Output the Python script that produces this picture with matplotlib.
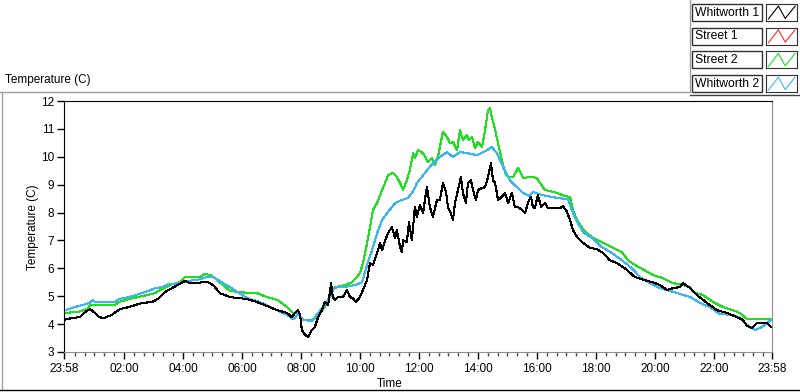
import numpy as np
import matplotlib.pyplot as plt
from matplotlib.lines import Line2D
from matplotlib.patches import Rectangle

plt.rcParams['font.family'] = ['Liberation Sans', 'DejaVu Sans']

# time in hours after midnight, temperature in C
w1_t = [-0.03, 0.24, 0.51, 0.68, 0.85, 0.98, 1.15, 1.32, 1.59, 1.86, 2.17, 2.61, 2.95, 3.19, 3.39,
        3.63, 3.90, 4.07, 4.24, 4.51, 4.64, 4.85, 5.02, 5.25, 5.59, 5.93, 6.17, 6.51, 6.85, 7.19,
        7.53, 7.69, 7.80, 7.90, 7.97, 8.03, 8.14, 8.24, 8.37, 8.47, 8.58, 8.71, 8.81, 8.92, 9.02,
        9.08, 9.15, 9.25, 9.42, 9.56, 9.66, 9.76, 9.86, 10.0, 10.10, 10.24, 10.34, 10.44, 10.58,
        10.68, 10.75, 10.85, 10.95, 11.08, 11.19, 11.25, 11.36, 11.42, 11.46, 11.59, 11.66, 11.76,
        11.83, 11.86, 11.93, 12.03, 12.14, 12.20, 12.27, 12.37, 12.47, 12.61, 12.71, 12.81, 12.92,
        12.98, 13.08, 13.15, 13.22, 13.32, 13.42, 13.49, 13.59, 13.66, 13.76, 13.83, 13.93, 14.0,
        14.14, 14.24, 14.34, 14.44, 14.51, 14.58, 14.68, 14.81, 14.92, 15.02, 15.15, 15.25, 15.36,
        15.49, 15.59, 15.73, 15.80, 15.86, 15.93, 16.03, 16.14, 16.27, 16.37, 16.61, 16.78, 16.88,
        17.02, 17.12, 17.22, 17.36, 17.53, 17.80, 18.03, 18.24, 18.47, 18.71, 18.98, 19.32, 19.63,
        19.93, 20.17, 20.41, 20.61, 20.85, 20.95, 21.19, 21.42, 21.76, 22.10, 22.44, 22.78, 22.98,
        23.12, 23.29, 23.46, 23.66, 23.80, 23.93, 23.97]
w1_v = [4.15, 4.22, 4.25, 4.43, 4.54, 4.43, 4.25, 4.22, 4.33, 4.54, 4.61, 4.76, 4.79, 4.93, 5.15,
        5.29, 5.45, 5.55, 5.47, 5.47, 5.5, 5.5, 5.4, 5.11, 4.97, 4.93, 4.9, 4.79, 4.65, 4.5,
        4.4, 4.25, 4.4, 4.5, 4.33, 3.79, 3.61, 3.54, 3.79, 3.9, 4.25, 4.5, 4.79, 4.68, 5.47,
        4.97, 4.86, 4.97, 4.97, 5.22, 4.97, 4.93, 4.79, 4.97, 5.22, 5.58, 6.19, 6.12, 6.55,
        6.9, 6.65, 7.0, 7.26, 7.48, 7.08, 7.37, 6.76, 6.58, 7.0, 6.94, 7.66, 7.0,
        7.84, 8.2, 7.84, 8.27, 7.98, 8.45, 8.91, 8.2, 7.84, 8.45, 8.45, 9.06, 8.73,
        8.2, 7.98, 7.73, 8.34, 8.81, 9.27, 8.7, 8.34, 9.06, 9.16, 8.81, 8.45, 8.81,
        8.88, 8.91, 9.27, 9.77, 9.16, 9.06, 8.45, 8.56, 8.7, 8.34, 8.7, 8.2, 8.2,
        8.09, 7.98, 8.45, 8.56, 8.2, 8.16, 8.63, 8.2, 8.34, 8.16, 8.16, 8.16, 8.23,
        8.02, 7.73, 7.37, 7.12, 6.94, 6.73, 6.69, 6.55, 6.29, 6.19, 6.0, 5.69, 5.58,
        5.5, 5.4, 5.22, 5.29, 5.33, 5.47, 5.29, 5.04, 4.76, 4.5, 4.4, 4.25, 4.15,
        3.93, 3.86, 4.04, 4.04, 4.04, 3.9, 3.9]

# Street 1 has no readings in this window
s1_t = []
s1_v = []

s2_t = [-0.03, 0.47, 0.75, 0.85, 1.69, 1.83, 2.17, 2.61, 3.05, 3.29, 3.63, 3.90, 4.07, 4.58, 4.75,
        4.92, 5.08, 5.32, 5.59, 6.27, 6.51, 6.85, 7.22, 7.53, 7.73, 7.90, 8.07, 8.37, 8.58, 8.81,
        9.05, 9.22, 9.49, 9.73, 9.90, 10.0, 10.10, 10.24, 10.34, 10.44, 10.58, 10.75, 10.85, 10.95,
        11.12, 11.25, 11.36, 11.46, 11.59, 11.69, 11.80, 11.86, 11.97, 12.14, 12.31, 12.44, 12.54,
        12.64, 12.81, 12.95, 13.05, 13.15, 13.29, 13.39, 13.49, 13.63, 13.69, 13.80, 13.90, 14.0,
        14.14, 14.24, 14.34, 14.41, 14.47, 14.58, 14.68, 14.81, 14.92, 15.02, 15.19, 15.36, 15.53,
        15.73, 15.83, 16.0, 16.10, 16.27, 16.61, 16.95, 17.12, 17.22, 17.36, 17.53, 17.69, 17.86,
        18.20, 18.54, 18.88, 19.08, 19.32, 19.63, 19.93, 20.27, 20.61, 20.95, 21.19, 21.29, 21.63,
        21.97, 22.31, 22.64, 22.88, 23.12, 23.97]
s2_v = [4.4, 4.44, 4.54, 4.68, 4.68, 4.79, 4.9, 5.0, 5.11, 5.26, 5.44, 5.5, 5.69, 5.69, 5.8,
        5.76, 5.65, 5.44, 5.19, 5.11, 5.11, 4.97, 4.86, 4.61, 4.4, 4.4, 4.15, 4.15, 4.33, 4.61,
        5.22, 5.33, 5.4, 5.5, 5.69, 5.83, 6.19, 6.9, 7.48, 8.09, 8.34, 8.81, 9.06, 9.34,
        9.42, 9.27, 9.06, 8.81, 9.16, 9.52, 10.13, 9.95, 10.24, 10.13, 9.81, 9.95, 9.7,
        9.99, 10.89, 10.71, 10.49, 10.53, 10.24, 10.96, 10.6, 10.78, 10.6, 10.71, 10.31, 10.53,
        10.35, 10.96, 11.68, 11.75, 11.42, 10.96, 10.49, 9.88, 9.42, 9.27, 9.27, 9.6, 9.24,
        9.27, 9.27, 9.24, 9.06, 8.81, 8.73, 8.59, 8.56, 8.09, 7.73, 7.44, 7.26, 7.12,
        6.94, 6.76, 6.58, 6.29, 6.12, 5.94, 5.76, 5.65, 5.47, 5.4, 5.33, 5.15, 5.04,
        4.79, 4.61, 4.5, 4.4, 4.18, 4.18]

w2_t = [-0.03, 0.34, 0.81, 0.95, 1.02, 1.69, 1.83, 2.17, 2.61, 3.05, 3.29, 3.53, 3.90, 4.14, 4.47,
        4.81, 5.02, 5.36, 5.59, 6.17, 6.51, 6.85, 7.19, 7.53, 7.73, 7.80, 7.90, 8.07, 8.37, 8.58,
        8.81, 8.98, 9.15, 9.49, 9.83, 10.07, 10.24, 10.41, 10.58, 10.75, 10.95, 11.19, 11.42, 11.63,
        11.83, 11.93, 12.14, 12.47, 12.71, 12.95, 13.15, 13.39, 13.63, 13.97, 14.31, 14.47, 14.64,
        14.85, 15.08, 15.32, 15.53, 15.73, 15.86, 16.17, 16.51, 16.71, 17.05, 17.22, 17.36, 17.56,
        17.86, 18.20, 18.54, 18.88, 19.22, 19.49, 19.83, 20.17, 20.51, 20.85, 21.19, 21.53, 21.86,
        22.20, 22.64, 22.88, 23.12, 23.39, 23.56, 23.73, 23.97]
w2_v = [4.48, 4.61, 4.75, 4.86, 4.79, 4.79, 4.9, 4.97, 5.11, 5.28, 5.33, 5.44, 5.47, 5.55, 5.58,
        5.69, 5.69, 5.47, 5.33, 4.93, 4.83, 4.68, 4.5, 4.33, 4.18, 4.22, 4.4, 4.15, 4.11, 4.4,
        4.68, 4.97, 5.33, 5.33, 5.4, 5.5, 6.12, 6.65, 7.26, 7.73, 8.02, 8.34, 8.45, 8.52,
        8.81, 9.06, 9.34, 9.77, 9.99, 10.17, 9.99, 10.17, 10.13, 10.06, 10.24, 10.35, 10.13,
        9.63, 9.16, 8.91, 8.7, 8.6, 8.74, 8.63, 8.56, 8.52, 8.48, 7.98, 7.66, 7.3,
        7.09, 6.76, 6.55, 6.29, 6.0, 5.69, 5.47, 5.29, 5.19, 5.08, 4.97, 4.76, 4.61,
        4.36, 4.33, 4.22, 3.97, 3.79, 3.86, 3.97, 4.18]

names = ['Whitworth 1', 'Street 1', 'Street 2', 'Whitworth 2']
colors = ['black', '#ff2a2a', '#1ee01e', '#3cb6f2']

start = -2 / 60
end = 24 - 2 / 60

fig = plt.figure(figsize=(8, 3.92), dpi=100)
ax = fig.add_axes([64 / 800, 40 / 392, 708 / 800, 251 / 392])

ax.plot(s2_t, s2_v, color=colors[2], lw=0.75, antialiased=False)
ax.plot(w2_t, w2_v, color=colors[3], lw=0.75, antialiased=False)
ax.plot(s1_t, s1_v, color=colors[1], lw=0.75, antialiased=False)
ax.plot(w1_t, w1_v, color=colors[0], lw=0.75, antialiased=False)

ax.set_xlim(start, end)
ax.set_ylim(3, 12)
ax.set_yticks(range(3, 13))

major = [start] + list(range(2, 24, 2)) + [end]
labels = ['23:58'] + ['%02d:00' % h for h in range(2, 24, 2)] + ['23:58']
ax.set_xticks(major)
ax.set_xticklabels(labels)
minor = [m for m in np.arange(1 / 3, 24, 1 / 3) if abs(m / 2 - round(m / 2)) > 0.01]
ax.set_xticks(minor, minor=True)

ax.tick_params(which='major', length=5, width=1, color='black', labelsize=8.5, pad=2)
ax.tick_params(which='minor', length=3, width=1, color='#505050')
ax.tick_params(axis='x', which='major', pad=3)
ax.spines['left'].set_color('black')
ax.spines['top'].set_color('black')
ax.spines['right'].set_color('#909090')
ax.spines['bottom'].set_color('#909090')

fig.text(33 / 800, 1 - 227 / 392, 'Temperature (C)', rotation=90, ha='center', va='center',
         fontsize=8.5)
fig.text(390 / 800, 1 - 384 / 392, 'Time', ha='center', va='center', fontsize=8.5)
fig.text(5 / 800, 1 - 80 / 392, 'Temperature (C)', ha='left', va='center', fontsize=8.5)

# panel frame
fig.add_artist(Line2D([0, 690 / 800], [1 - 92 / 392] * 2, color='#a0a0a0', lw=1))
fig.add_artist(Line2D([1.5 / 800] * 2, [1 - 92 / 392, 2 / 392], color='#a0a0a0', lw=1))
fig.add_artist(Line2D([0, 1], [2 / 392] * 2, color='black', lw=1))
fig.add_artist(Line2D([690 / 800] * 2, [1, 1 - 92 / 392], color='#a0a0a0', lw=1))
fig.add_artist(Line2D([690 / 800, 1], [1 - 95 / 392] * 2, color='#404040', lw=1))

# plot legend
for i, (name, c) in enumerate(zip(names, colors)):
    top = 4 + i * 23.7
    fig.add_artist(Rectangle((692 / 800, 1 - (top + 17) / 392), 70 / 800, 17 / 392,
                             transform=fig.transFigure, facecolor='white',
                             edgecolor='#303030', lw=1))
    fig.text(695 / 800, 1 - (top + 8.5) / 392, name, ha='left', va='center', fontsize=8.7)
    sax = fig.add_axes([766 / 800, 1 - (top + 17) / 392, 31 / 800, 17 / 392])
    sax.plot([0.08, 0.4, 0.62, 0.94], [0.12, 0.88, 0.15, 0.88], color=c, lw=0.8)
    sax.set_xlim(0, 1)
    sax.set_ylim(0, 1)
    sax.set_xticks([])
    sax.set_yticks([])
    for s in sax.spines.values():
        s.set_color('#303030')

fig.savefig('out.png', dpi=100)
